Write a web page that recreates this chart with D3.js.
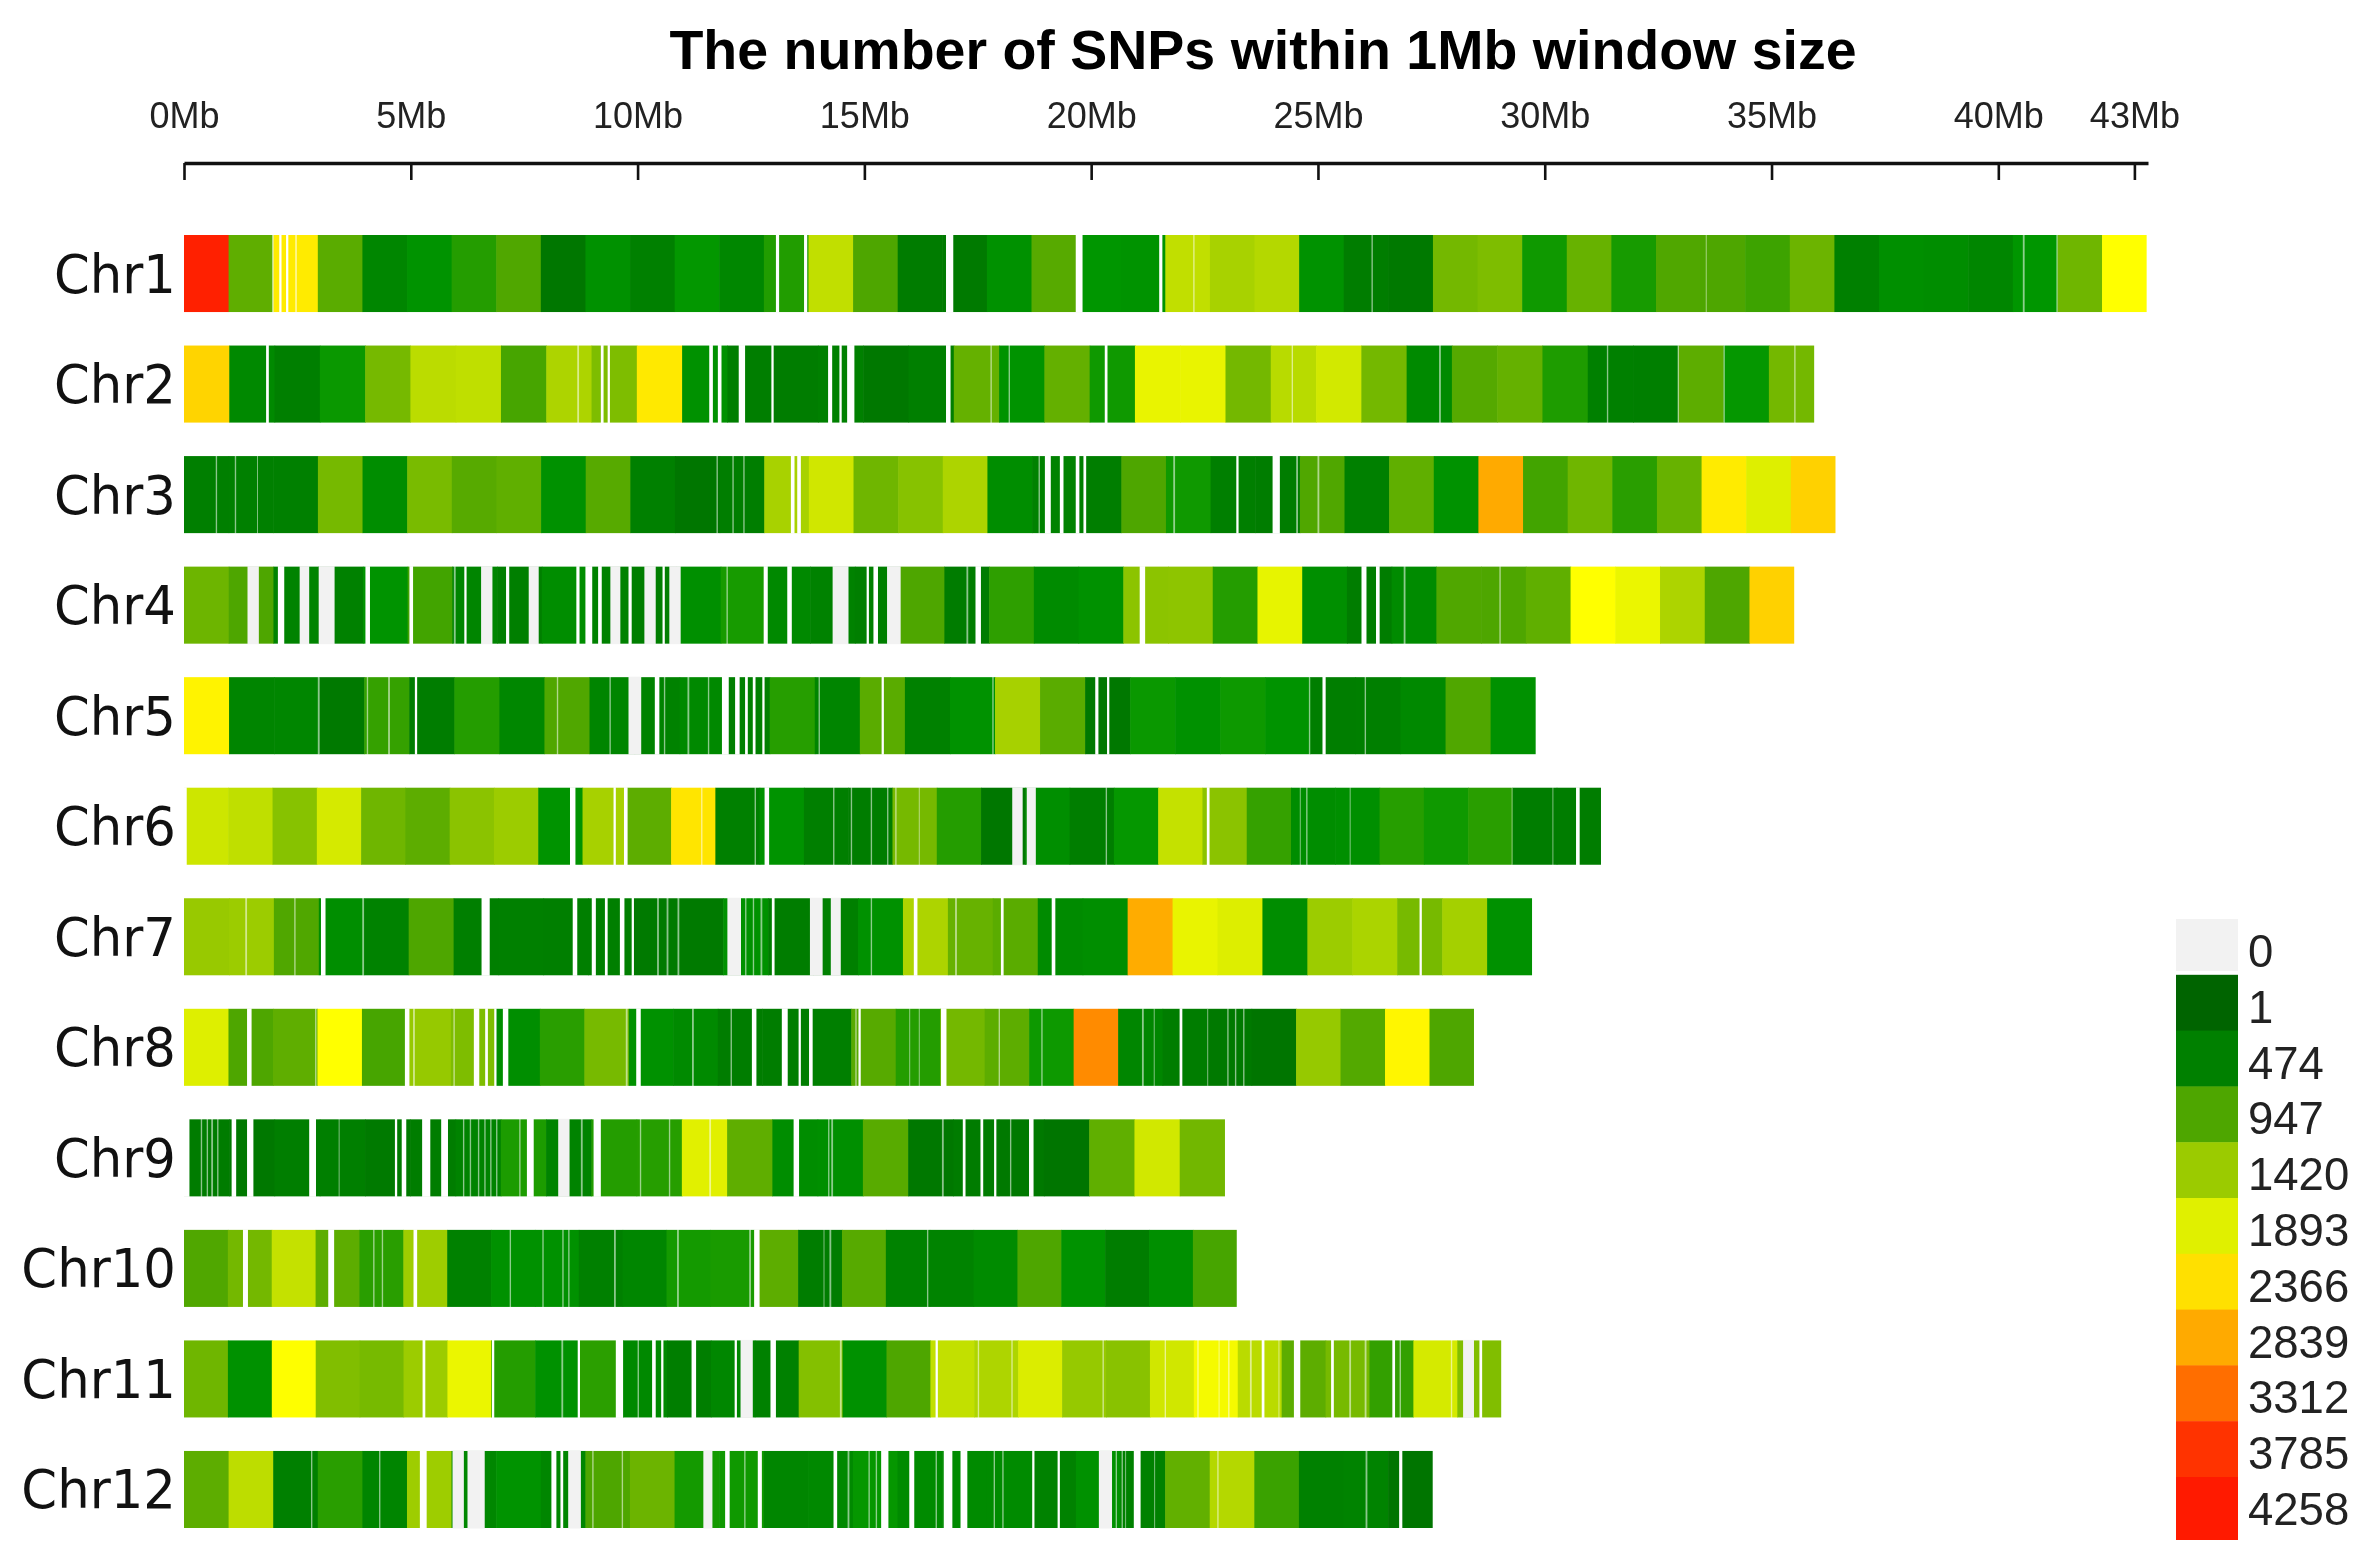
<!DOCTYPE html>
<html><head><meta charset="utf-8">
<script src="https://cdnjs.cloudflare.com/ajax/libs/d3/7.8.5/d3.min.js"></script>
<style>html,body{margin:0;padding:0;background:#fff}svg{display:block;filter:blur(0.7px)}</style>
</head><body><svg id="c" width="2370" height="1560"></svg>
<script>
const chartTitle = "The number of SNPs within 1Mb window size";
const chrNames = ["Chr1","Chr2","Chr3","Chr4","Chr5","Chr6","Chr7","Chr8","Chr9","Chr10","Chr11","Chr12"];
const chrLengths = [43.27,35.94,36.41,35.50,29.80,31.24,29.72,28.44,22.95,23.21,29.04,27.53];
const axisTicks = [0,5,10,15,20,25,30,35,40,43];
const legendLabels = ["0","1","474","947","1420","1893","2366","2839","3312","3785","4258"];
const legendColors = ["#f2f2f2","#006400","#008000","#4ea600","#9bcb00","#e0f000","#ffe000","#ffaa00","#ff6e00","#ff3300","#ff1a00"];
const rampValues = [1,474,640,947,1420,1893,2130,2366,2839,3312,3785,4258];
const rampColors = ["#006400","#008000","#009600","#4ea600","#9bcb00","#e0f000","#ffff00","#ffe000","#ffaa00","#ff6e00","#ff3300","#ff1a00"];

const chr1Counts = [4150,1050,2280,1020,520,620,780,960,330,600,470,650,530,770,1680,950,400,380,600,1000,640,620,1680,1510,1590,610,420,350,1180,1240,700,1100,730,960,950,880,1130,470,590,570,520,640,1150,2130];
const chr1Gaps = [[1.94,.04],[2.1,.05],[2.25,.05],[2.45,.04],[13.05,.07],[13.67,.07],[16.8,.16],[19.66,.15],[21.5,.07],[22.25,.03],[26.18,.03],[33.55,.02],[40.54,.04],[41.28,.03]];
const chr2Counts = [2470,540,460,680,1190,1640,1670,920,1540,1240,2300,600,440,430,470,340,450,1090,620,1080,700,1960,1960,1180,1620,1800,1180,550,990,1090,760,470,450,1040,660,1180];
const chr2Gaps = [[1.81,.06],[8.67,.04],[9.19,.06],[9.34,.05],[11.58,.08],[11.77,.08],[12.23,.14],[12.95,.05],[14.2,.09],[14.45,.05],[14.62,.16],[16.8,.1],[17.78,.03],[18.18,.03],[20.3,.06],[24.42,.03],[27.67,.04],[31.37,.03],[32.93,.03],[33.94,.03],[35.5,.03]];
const chr3Counts = [450,470,470,1190,570,1210,1000,1060,600,1000,470,300,440,1510,1780,1150,1300,1540,570,490,440,950,700,450,420,960,470,1060,610,2839,900,1150,800,1100,2280,1880,2500];
const chr3Gaps = [[.7,.03],[1.12,.03],[1.61,.02],[11.74,.03],[12.09,.03],[12.33,.03],[13.38,.08],[13.52,.08],[18.84,.03],[18.98,.13],[19.31,.08],[19.66,.08],[19.83,.06],[21.81,.04],[23.2,.05],[24,.16],[24.52,.04],[24.99,.04]];
const chr4Counts = [1140,950,500,480,620,900,510,450,570,480,440,590,730,540,490,460,950,400,820,560,600,1330,1340,780,1950,590,430,560,960,950,1060,2130,1980,1540,950,2500];
const chr4Gaps = [[1.4,.25],[2.07,.14],[2.55,.21],[2.97,.35],[4,.1],[4.97,.08],[5.95,.04],[6.18,.05],[6.55,.25],[7.1,.07],[7.6,.22],[8.65,.07],[8.85,.15],[9.13,.08],[9.4,.22],[9.8,.07],[10.15,.25],[10.55,.05],[10.7,.25],[11.96,.03],[12.78,.09],[13.3,.1],[14.3,.35],[15.05,.05],[15.2,.1],[15.5,.3],[17.25,.04],[17.45,.12],[21.07,.12],[25.96,.11],[26.28,.08],[26.89,.04],[29,.03]];
const chr5Counts = [2220,510,520,350,850,430,780,530,960,510,490,540,450,790,510,1020,480,610,1500,1020,340,680,600,690,620,440,450,540,960,600];
const chr5Gaps = [[2.95,.04],[4.03,.03],[4.5,.04],[5.09,.05],[8.22,.03],[9.38,.03],[9.8,.28],[10.38,.1],[10.58,.03],[11.1,.04],[11.55,.03],[11.86,.15],[12.15,.1],[12.37,.06],[12.54,.06],[12.75,.05],[13.99,.03],[15.38,.05],[17.82,.03],[20.09,.07],[20.35,.05],[24.8,.03],[25.1,.07],[26.03,.03]];
const chr6Counts = [1760,1670,1300,1820,1150,1040,1320,1430,620,1500,1040,2330,470,620,450,430,1190,780,320,580,440,660,1700,1320,850,570,590,790,700,800,420,420];
const chr6Gaps = [[0,.06],[8.51,.12],[9.47,.05],[9.7,.08],[11.4,.03],[12.58,.03],[12.8,.1],[14.31,.03],[14.7,.03],[15.14,.03],[15.5,.03],[15.68,.03],[16.2,.02],[18.26,.23],[18.58,.2],[20.32,.03],[22.55,.06],[24.6,.02],[24.74,.03],[25.7,.02],[29.27,.02],[30.17,.02],[30.69,.08]];
const chr7Counts = [1400,1430,960,580,490,950,450,470,450,460,370,370,600,430,470,600,1540,1100,1020,560,580,2820,1960,1870,570,1430,1530,1200,1480,600];
const chr7Gaps = [[1.35,.04],[2.43,.03],[3.02,.1],[3.93,.04],[6.56,.18],[8.57,.1],[8.99,.09],[9.28,.06],[9.61,.1],[9.87,.05],[10.43,.04],[10.64,.04],[10.88,.04],[11.98,.3],[12.37,.03],[12.54,.03],[12.71,.04],[12.96,.06],[13.8,.28],[14.26,.22],[15.14,.03],[16.09,.08],[17,.04],[18.01,.06],[19.13,.08],[27.24,.05]];
const chr8Counts = [1880,950,1050,2130,920,1390,1240,580,800,1200,600,550,430,430,450,1000,780,1180,1040,690,3080,520,420,350,280,1390,980,2200,950];
const chr8Gaps = [[1.39,.1],[2.89,.03],[4.87,.1],[5.05,.04],[5.94,.03],[6.39,.12],[6.64,.06],[6.84,.05],[7.03,.12],[9.74,.04],[9.97,.1],[11.2,.04],[12.05,.03],[12.52,.1],[13.18,.13],[13.55,.05],[13.78,.08],[14.8,.03],[14.87,.05],[15.99,.02],[16.2,.02],[16.69,.12],[17.96,.03],[18.9,.03],[21.12,.04],[21.38,.02],[21.95,.06],[22.56,.02],[23,.03],[23.17,.03],[23.35,.03]];
const chr9Counts = [400,340,440,460,380,430,500,750,500,780,790,1900,1050,570,590,1010,340,400,350,280,1060,1790,1170];
const chr9Gaps = [[0,.12],[.37,.03],[.5,.03],[.6,.04],[.73,.03],[1.05,.1],[1.39,.14],[2.76,.15],[3.41,.02],[4.65,.05],[4.8,.1],[5.25,.18],[5.67,.15],[6.15,.03],[6.3,.03],[6.48,.03],[6.62,.03],[6.75,.03],[6.88,.03],[7.39,.03],[7.56,.15],[8.25,.25],[8.75,.04],[9.03,.16],[10.05,.03],[10.69,.03],[11.58,.04],[13.44,.12],[14.2,.03],[14.27,.04],[16.71,.04],[17.17,.06],[17.56,.06],[17.86,.05],[18.21,.03],[18.63,.1]];
const chr10Counts = [960,1180,1700,1040,800,1440,480,600,600,470,520,720,740,1040,420,1000,490,500,560,950,610,420,590,920];
const chr10Gaps = [[1.3,.11],[3.18,.13],[4.17,.03],[4.36,.03],[5.06,.08],[7.18,.03],[7.9,.03],[8.34,.03],[8.47,.03],[9.48,.04],[10.87,.04],[12.46,.04],[12.57,.12],[14.1,.02],[14.23,.04],[16.38,.03]];
const chr11Counts = [1150,600,2120,1260,1200,1430,1980,780,600,810,540,440,530,480,1280,600,950,1690,1550,1860,1390,1310,1780,2050,1630,1040,1200,840,1820,1260];
const chr11Gaps = [[5.26,.06],[6.79,.05],[8.32,.04],[8.68,.05],[9.52,.16],[10,.03],[10.32,.08],[10.52,.05],[11.19,.1],[12.14,.05],[12.27,.27],[12.93,.12],[14.46,.04],[16.57,.05],[17.5,.03],[18.24,.03],[20.25,.03],[21.62,.03],[22.34,.03],[22.81,.02],[23.02,.03],[23.5,.04],[23.76,.06],[24.13,.02],[24.47,.14],[25.29,.06],[25.69,.04],[26.03,.04],[26.64,.06],[26.8,.03],[27.93,.03],[28.2,.24],[28.56,.06]];
const chr12Counts = [1040,1650,470,800,510,1440,530,620,520,950,1130,720,700,520,540,660,560,560,560,490,600,480,1070,1590,870,480,500,290];
const chr12Gaps = [[2.8,.03],[4.3,.03],[5.2,.15],[5.92,.25],[6.25,.38],[8.1,.11],[8.3,.06],[8.47,.28],[9,.03],[9.65,.03],[11.45,.2],[11.93,.1],[12.35,.03],[12.65,.09],[14.32,.08],[14.63,.04],[15.09,.03],[15.25,.03],[15.37,.16],[15.99,.11],[16.57,.03],[16.75,.19],[17.12,.15],[17.85,.03],[18.04,.03],[18.7,.05],[19.26,.05],[20.17,.29],[20.54,.03],[20.67,.03],[20.75,.02],[20.94,.15],[21.39,.02],[22.78,.03],[26.05,.04],[26.79,.07]];

const counts = [chr1Counts,chr2Counts,chr3Counts,chr4Counts,chr5Counts,chr6Counts,chr7Counts,chr8Counts,chr9Counts,chr10Counts,chr11Counts,chr12Counts];
const gaps = [chr1Gaps,chr2Gaps,chr3Gaps,chr4Gaps,chr5Gaps,chr6Gaps,chr7Gaps,chr8Gaps,chr9Gaps,chr10Gaps,chr11Gaps,chr12Gaps];

const svg = d3.select("#c");
const x = d3.scaleLinear().domain([0,43.3]).range([184,2148]);
const y = d3.scaleBand().domain(chrNames).range([235,1528]).paddingInner(0.303);
const color = d3.scaleLinear().domain(rampValues).range(rampColors).interpolate(d3.interpolateRgb);
const zeroColor = legendColors[0];

svg.append("text").attr("x",1263).attr("y",69).attr("text-anchor","middle")
  .attr("font-family","'Liberation Sans',Arial,sans-serif").attr("font-weight","bold").attr("font-size",55.5).attr("fill","#000").text(chartTitle);

const axis = d3.axisBottom(x).tickValues(axisTicks).tickFormat(d=>d+"Mb").tickSize(17).tickSizeOuter(0);
const ax = svg.append("g").attr("transform","translate(0,163)").call(axis);
ax.select(".domain").attr("stroke","#111").attr("stroke-width",3.5);
ax.selectAll(".tick line").attr("stroke","#111").attr("stroke-width",2.6);
ax.selectAll(".tick text").attr("y",-35).attr("dy",0).attr("fill","#222")
  .attr("font-family","'Liberation Sans',Arial,sans-serif").attr("font-size",36);

chrNames.forEach((name,i)=>{
  const g = svg.append("g");
  const n = counts[i].length, w = chrLengths[i]/n;
  g.selectAll("rect.win").data(counts[i]).join("rect").attr("class","win")
    .attr("x",(d,k)=>x(k*w)).attr("y",y(name))
    .attr("width",(d,k)=>x((k+1)*w)-x(k*w)+(k<n-1?0.6:0)).attr("height",y.bandwidth())
    .attr("fill",d=>color(d));
  g.selectAll("rect.gap").data(gaps[i]).join("rect").attr("class","gap")
    .attr("x",d=>x(d[0])).attr("y",y(name)-0.5)
    .attr("width",d=>x(d[0]+d[1])-x(d[0])).attr("height",y.bandwidth()+1)
    .attr("fill",d=>d[1]>=.2?zeroColor:"#ffffff")
    .attr("opacity",d=>d[1]<.05?.55:1);
  svg.append("text").attr("text-anchor","end")
    .attr("transform",`translate(176,${y(name)+y.bandwidth()/2+19}) scale(0.95,1)`)
    .attr("font-family","'DejaVu Sans',sans-serif").attr("font-size",54).attr("fill","#111").text(name);
});

const ly = d3.scalePoint().domain(legendLabels).range([919,919+55.8*10]);
const lg = svg.append("g");
lg.selectAll("rect").data(legendLabels).join("rect")
  .attr("x",2176).attr("width",62)
  .attr("y",d=>ly(d))
  .attr("height",(d,i)=>i===0?52:(i===legendLabels.length-1?63:56.3))
  .attr("fill",(d,i)=>legendColors[i]);
lg.selectAll("text").data(legendLabels).join("text")
  .attr("x",2248).attr("y",d=>ly(d)+48)
  .attr("font-family","'Liberation Sans',Arial,sans-serif").attr("font-size",45.5).attr("fill","#222").text(d=>d);
</script></body></html>
